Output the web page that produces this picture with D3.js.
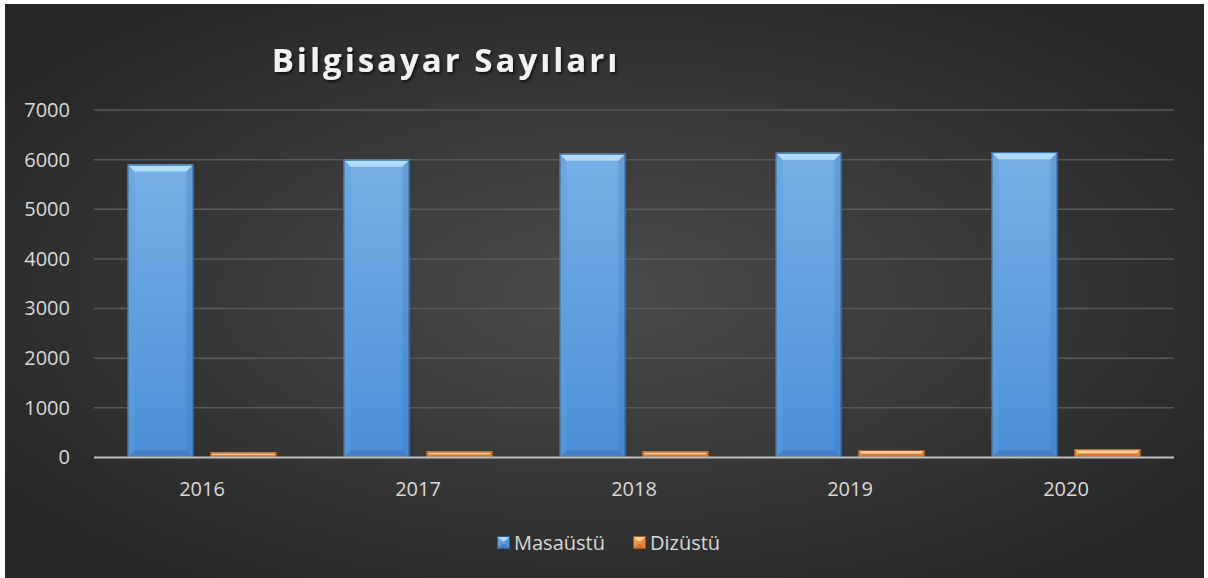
<!DOCTYPE html>
<html>
<head>
<meta charset="utf-8">
<script src="https://cdn.jsdelivr.net/npm/d3@7"></script>
<style>
  html, body { margin: 0; padding: 0; background: #ffffff; }
  svg { display: block; }
</style>
</head>
<body>
<div id="chart"></div>
<script>
const years = ["2016", "2017", "2018", "2019", "2020"];
const seriesNames = ["Masaüstü", "Dizüstü"];
const masaustu = [5900, 6000, 6120, 6140, 6150];
const dizustu = [100, 120, 120, 150, 165];
const yTicks = [0, 1000, 2000, 3000, 4000, 5000, 6000, 7000];

const width = 1208, height = 578;
const box = {x: 5, y: 4, w: 1199, h: 574};
const plot = {left: 94, right: 1174, top: 110, bottom: 457.5};

const svg = d3.select("#chart").append("svg")
    .attr("width", width)
    .attr("height", height);

const defs = svg.append("defs");

const bg = defs.append("radialGradient")
    .attr("id", "bg")
    .attr("cx", "50%").attr("cy", "50%").attr("r", "60%");
bg.append("stop").attr("offset", "0%").attr("stop-color", "#4b4b4b");
bg.append("stop").attr("offset", "100%").attr("stop-color", "#272727");

const palette = {
  "Masaüstü": {top: "#78b0e6", bottom: "#4a8fd8", light: "#b3dcf8", dark: "#3a74b8", side: "#5f9fe0", edge: "#2e5e96"},
  "Dizüstü": {top: "#f7a25a", bottom: "#ee8a3a", light: "#ffd09a", dark: "#c8661e", side: "#f29547", edge: "#a9521a"}
};

seriesNames.forEach((s, i) => {
  const g = defs.append("linearGradient")
      .attr("id", "fill" + i)
      .attr("x1", 0).attr("y1", 0).attr("x2", 0).attr("y2", 1);
  g.append("stop").attr("offset", "0%").attr("stop-color", palette[s].top);
  g.append("stop").attr("offset", "100%").attr("stop-color", palette[s].bottom);
});

svg.append("rect")
    .attr("x", box.x).attr("y", box.y)
    .attr("width", box.w).attr("height", box.h)
    .attr("fill", "url(#bg)");

// scales
const x0 = d3.scaleBand()
    .domain(years)
    .range([plot.left, plot.right])
    .paddingInner(0.31)
    .paddingOuter(0.155);

const x1 = d3.scaleBand()
    .domain(seriesNames)
    .range([0, x0.bandwidth()])
    .paddingInner(0.205);

const y = d3.scaleLinear()
    .domain([0, 7000])
    .range([plot.bottom, plot.top]);

// gridlines
svg.append("g")
  .selectAll("line")
  .data(yTicks.filter(d => d > 0))
  .enter().append("line")
    .attr("x1", plot.left).attr("x2", plot.right)
    .attr("y1", d => y(d)).attr("y2", d => y(d))
    .attr("stroke", "#5a5a5a")
    .attr("stroke-width", 1.5);

// y axis labels
const yAxis = svg.append("g")
    .attr("transform", "translate(" + (plot.left - 24) + ",0)")
    .call(d3.axisLeft(y).tickValues(yTicks).tickFormat(d3.format("d")).tickSize(0).tickPadding(0));
yAxis.select(".domain").remove();
yAxis.selectAll("text")
    .attr("fill", "#d9d9d9")
    .style("font-family", "'Open Sans', sans-serif")
    .style("font-size", "20px");

// bars with bevel
const seriesData = [masaustu, dizustu];

function bevelBar(g, bx, by, bw, bh, col, fillId, bev) {
  const b = Math.min(bev, bh / 2);
  g.append("rect")
      .attr("x", bx).attr("y", by)
      .attr("width", bw).attr("height", bh)
      .attr("fill", "url(#" + fillId + ")");
  // top bevel
  g.append("polygon")
      .attr("points", [[bx, by], [bx + bw, by], [bx + bw - b, by + b], [bx + b, by + b]].join(" "))
      .attr("fill", col.light);
  // bottom bevel
  g.append("polygon")
      .attr("points", [[bx, by + bh], [bx + bw, by + bh], [bx + bw - b, by + bh - b], [bx + b, by + bh - b]].join(" "))
      .attr("fill", col.dark).attr("opacity", 0.6);
  // side bevels
  g.append("polygon")
      .attr("points", [[bx, by], [bx + b, by + b], [bx + b, by + bh - b], [bx, by + bh]].join(" "))
      .attr("fill", col.side).attr("opacity", 0.45);
  g.append("polygon")
      .attr("points", [[bx + bw, by], [bx + bw - b, by + b], [bx + bw - b, by + bh - b], [bx + bw, by + bh]].join(" "))
      .attr("fill", col.dark).attr("opacity", 0.3);
  g.append("rect")
      .attr("x", bx + 0.5).attr("y", by + 0.5)
      .attr("width", bw - 1).attr("height", Math.max(0, bh - 1))
      .attr("fill", "none")
      .attr("stroke", col.edge)
      .attr("stroke-width", 1);
}

const barsG = svg.append("g");
years.forEach((yr, i) => {
  seriesNames.forEach((s, j) => {
    const v = seriesData[j][i];
    const bx = x0(yr) + x1(s);
    const by = y(v);
    bevelBar(barsG, bx, by, x1.bandwidth(), y(0) - by, palette[s], "fill" + j, 7);
  });
});

// x axis line
svg.append("line")
    .attr("x1", plot.left).attr("x2", plot.right)
    .attr("y1", plot.bottom).attr("y2", plot.bottom)
    .attr("stroke", "#bfbfbf")
    .attr("stroke-width", 2);

// x labels
svg.append("g")
  .selectAll("text")
  .data(years)
  .enter().append("text")
    .attr("x", d => x0(d) + x0.bandwidth() / 2)
    .attr("y", 496)
    .attr("text-anchor", "middle")
    .attr("fill", "#d9d9d9")
    .style("font-family", "'Open Sans', sans-serif")
    .style("font-size", "20px")
    .text(d => d);

// title
const shadow = defs.append("filter").attr("id", "tshadow")
    .attr("x", "-10%").attr("y", "-20%").attr("width", "120%").attr("height", "150%");
shadow.append("feDropShadow")
    .attr("dx", 1.5).attr("dy", 2).attr("stdDeviation", 1.5)
    .attr("flood-color", "#000").attr("flood-opacity", 0.7);

svg.append("text")
    .attr("x", 446)
    .attr("y", 72)
    .attr("text-anchor", "middle")
    .attr("fill", "#f2f2f2")
    .attr("filter", "url(#tshadow)")
    .style("font-family", "'Open Sans', sans-serif")
    .style("font-weight", "bold")
    .style("font-size", "33px")
    .style("letter-spacing", "3px")
    .text("Bilgisayar Sayıları");

// legend
const legendItems = [
  {name: seriesNames[0], x: 497},
  {name: seriesNames[1], x: 633}
];
const legend = svg.append("g");
legendItems.forEach((it, j) => {
  bevelBar(legend, it.x, 536, 13, 13, palette[it.name], "fill" + j, 5);
  legend.append("text")
      .attr("x", it.x + 17)
      .attr("y", 550)
      .attr("fill", "#d9d9d9")
      .style("font-family", "'Open Sans', sans-serif")
      .style("font-size", "20px")
      .text(it.name);
});
</script>
</body>
</html>
